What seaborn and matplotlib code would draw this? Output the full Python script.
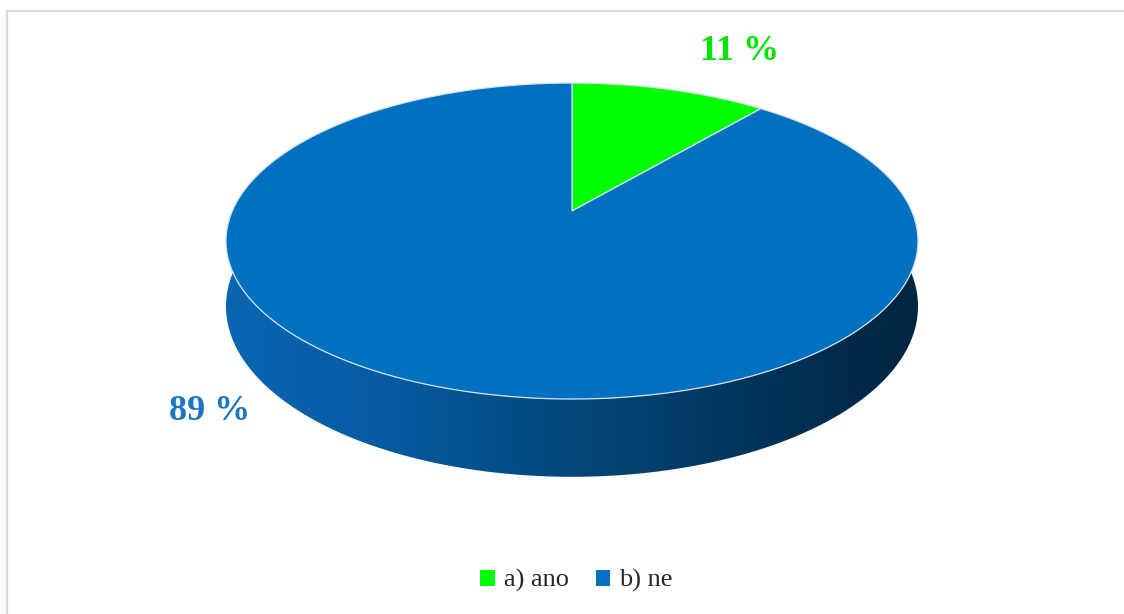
import numpy as np
import pandas as pd
import matplotlib
matplotlib.use("Agg")
import matplotlib.pyplot as plt
import seaborn as sns
from matplotlib.patches import Polygon, Patch
from matplotlib.lines import Line2D
from matplotlib.colors import LinearSegmentedColormap

# data
labels = ["a) ano", "b) ne"]
shares = [11, 89]
slice_colors = ["#00FF00", "#0070C0"]
text_colors = ["#00E600", "#1B76C0"]

sns.set_theme(style="white")
plt.rcParams["font.family"] = ["Liberation Serif", "DejaVu Serif"]

df = pd.DataFrame({"label": labels, "share": shares})

fig = plt.figure(figsize=(11.24, 6.14), dpi=100)
ax = fig.add_axes([0, 0, 1, 1])
ax.axis("off")

# 3d pie geometry (pixel space), simple perspective
cx, cy = 572, 211
A, B = 339.7, 152.3
p = 0.19
h = 63


def proj(theta, drop=0.0):
    # theta measured clockwise from the back (12 o'clock)
    x = np.sin(theta)
    z = -np.cos(theta)
    s = 1.0 / (1 - p * z)
    return cx + A * x * s, cy + (B * z + drop) * s


# side (front rim) between the two silhouette points
th_right = np.pi / 2 - np.arcsin(p)
th_left = 3 * np.pi / 2 + np.arcsin(p)
th = np.linspace(th_right, th_left, 300)
xt, yt = proj(th)
xb, yb = proj(th[::-1], h)
side_pts = np.column_stack([np.r_[xt, xb], np.r_[yt, yb]])
side = Polygon(side_pts, closed=True, facecolor="none", edgecolor="none")
ax.add_patch(side)
side_cmap = LinearSegmentedColormap.from_list(
    "side", [(0, "#0B66B2"), (0.25, "#0559A0"), (0.5, "#03487A"), (0.9, "#012A4A"), (1, "#01263F")])
grad = np.linspace(0, 1, 512).reshape(1, -1)
img = ax.imshow(grad, cmap=side_cmap, aspect="auto",
                extent=(xt.min() - 2, xt.max() + 2, yb.max() + 2, yt.min() - 2), zorder=1)
img.set_clip_path(side)
ax.set_xlim(0, 1124)
ax.set_ylim(614, 0)

# top faces of the slices
start = 0.0
total = df["share"].sum()
for i, row in df.iterrows():
    frac = row["share"] / total
    th = np.linspace(start, start + 2 * np.pi * frac, 200)
    xs, ys = proj(th)
    pts = np.column_stack([np.r_[cx, xs], np.r_[cy, ys]])
    ax.add_patch(Polygon(pts, closed=True, facecolor=slice_colors[i],
                         edgecolor="#D6E2F0", linewidth=0.9, zorder=2))
    start += 2 * np.pi * frac

# labels
ax.text(740, 51, f"{shares[0]} %", color=text_colors[0], fontsize=26,
        fontweight="bold", ha="center", va="center")
ax.text(210, 412, f"{shares[1]} %", color=text_colors[1], fontsize=26,
        fontweight="bold", ha="center", va="center")

# legend
handles = [Patch(facecolor=c, edgecolor="none") for c in slice_colors]
fig.legend(handles, labels, loc="center", bbox_to_anchor=(0.513, 0.054), ncol=2,
           frameon=False, fontsize=19, handlelength=0.55, handleheight=0.55,
           handletextpad=0.35, columnspacing=1.0)

# chart border (top and left)
fig.add_artist(Line2D([7 / 1124, 1], [1 - 11 / 614, 1 - 11 / 614], color="#D9D9D9", lw=1.6,
                      transform=fig.transFigure))
fig.add_artist(Line2D([7 / 1124, 7 / 1124], [0, 1 - 11 / 614], color="#D9D9D9", lw=1.6,
                      transform=fig.transFigure))

fig.savefig("out.png", dpi=100)
